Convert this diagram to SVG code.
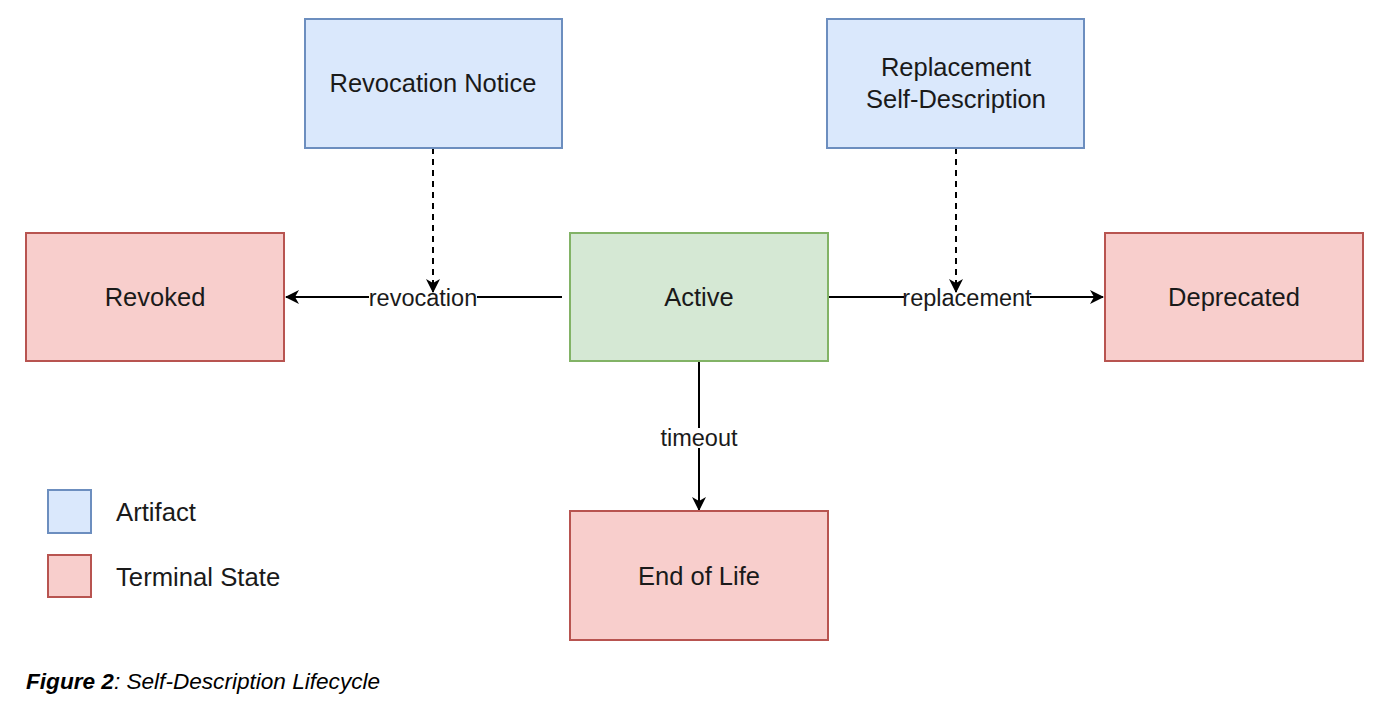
<svg xmlns="http://www.w3.org/2000/svg" width="1388" height="707" viewBox="0 0 1388 707">
<style>
.blue{fill:#dae8fc;stroke:#6c8ebf;stroke-width:2}
.red{fill:#f8cecc;stroke:#b85450;stroke-width:2}
.green{fill:#d5e8d4;stroke:#82b366;stroke-width:2}
.t{font-family:"Liberation Sans",Arial,sans-serif;font-size:25.5px;fill:#1a1a1a;text-anchor:middle}
.lt{font-family:"Liberation Sans",Arial,sans-serif;font-size:25.7px;fill:#1a1a1a}
.el{font-family:"Liberation Sans",Arial,sans-serif;font-size:23.5px;fill:#1a1a1a;text-anchor:middle}
.line{stroke:#000;stroke-width:2;fill:none}
.dash{stroke:#000;stroke-width:2;fill:none;stroke-dasharray:6 5}
</style>
<defs>
<marker id="arr" viewBox="0 0 14 14" refX="13" refY="7" markerWidth="14" markerHeight="14" markerUnits="userSpaceOnUse" orient="auto">
<path d="M0,0 L14,7 L0,14 L4,7 z" fill="#000"/>
</marker>
</defs>
<rect width="1388" height="707" fill="#fff"/>
<g id="connectors">
<line class="line" x1="562" y1="297" x2="286" y2="297" marker-end="url(#arr)"/>
<line class="line" x1="828" y1="297" x2="1103" y2="297" marker-end="url(#arr)"/>
<line class="line" x1="699" y1="361" x2="699" y2="510" marker-end="url(#arr)"/>
<rect x="369" y="292" width="108" height="12" fill="#fff"/>
<text class="el" x="423" y="306">revocation</text>
<rect x="904" y="292" width="126" height="12" fill="#fff"/>
<text class="el" x="967" y="306">replacement</text>
<rect x="660" y="428" width="78" height="20" fill="#fff"/>
<text class="el" x="699" y="446">timeout</text>
<line class="dash" x1="433" y1="148" x2="433" y2="292" marker-end="url(#arr)"/>
<line class="dash" x1="956" y1="148" x2="956" y2="292" marker-end="url(#arr)"/>
</g>
<g id="revocation-notice">
<rect class="blue" x="305" y="19" width="257" height="129"/>
<text class="t" x="433" y="92">Revocation Notice</text>
</g>
<g id="replacement-sd">
<rect class="blue" x="827" y="19" width="257" height="129"/>
<text class="t" x="956" y="76">Replacement</text>
<text class="t" x="956" y="108">Self-Description</text>
</g>
<g id="revoked">
<rect class="red" x="26" y="233" width="258" height="128"/>
<text class="t" x="155" y="306">Revoked</text>
</g>
<g id="active">
<rect class="green" x="570" y="233" width="258" height="128"/>
<text class="t" x="699" y="306">Active</text>
</g>
<g id="deprecated">
<rect class="red" x="1105" y="233" width="258" height="128"/>
<text class="t" x="1234" y="306">Deprecated</text>
</g>
<g id="end-of-life">
<rect class="red" x="570" y="511" width="258" height="129"/>
<text class="t" x="699" y="585">End of Life</text>
</g>
<g id="legend">
<rect class="blue" x="48" y="490" width="43" height="43"/>
<text class="lt" x="116" y="521">Artifact</text>
<rect class="red" x="48" y="555" width="43" height="42"/>
<text class="lt" x="116" y="586">Terminal State</text>
</g>
<g id="caption">
<text x="26" y="689" style="font-family:'Liberation Sans',Arial,sans-serif;font-size:22.6px;font-style:italic;fill:#000"><tspan font-weight="bold">Figure 2</tspan>: Self-Description Lifecycle</text>
</g>
</svg>
